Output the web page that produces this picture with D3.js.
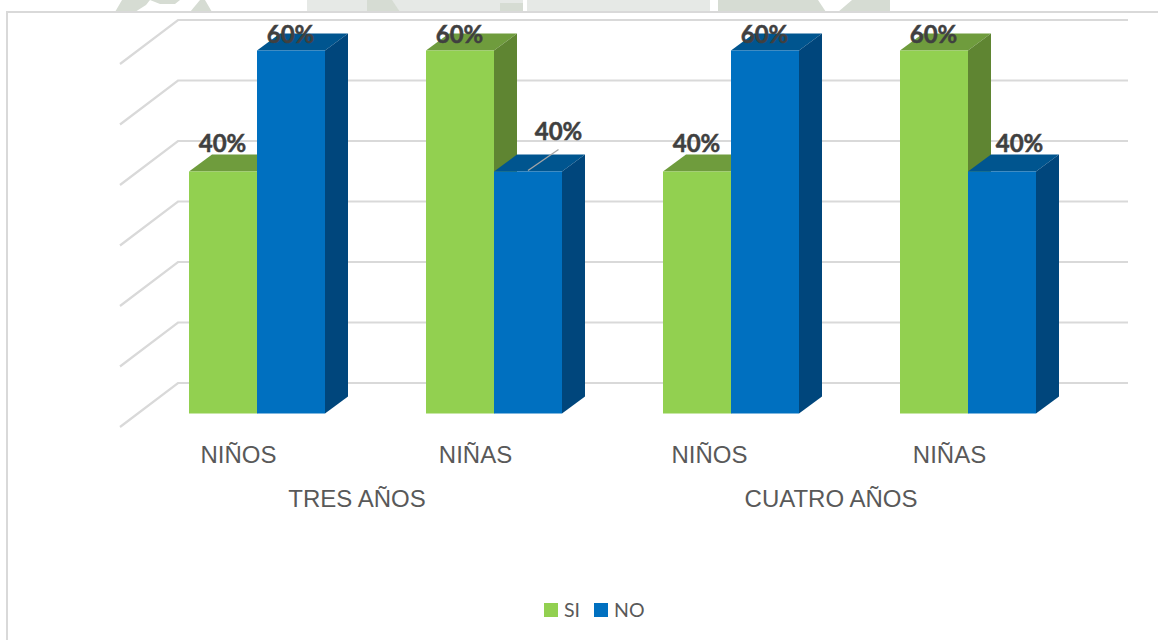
<!DOCTYPE html>
<html>
<head>
<meta charset="utf-8">
<script src="https://cdnjs.cloudflare.com/ajax/libs/d3/7.8.5/d3.min.js"></script>
<style>
  html, body { margin: 0; padding: 0; background: #fff; overflow: hidden; }
</style>
</head>
<body>
<div id="chart"></div>
<script>
// chart values
const categories = ["NIÑOS", "NIÑAS", "NIÑOS", "NIÑAS"];
const groups = ["TRES AÑOS", "CUATRO AÑOS"];
const seriesNames = ["SI", "NO"];
const siValues = [40, 60, 40, 60];
const noValues = [60, 40, 60, 40];
const gridTicks = [0, 10, 20, 30, 40, 50, 60];

const width = 1158;
const height = 640;

const colors = {
  SI: { front: "#92d050", top: "#6f9c3d", side: "#5f8532" },
  NO: { front: "#0070c0", top: "#00558f", side: "#00467c" }
};

const svg = d3.select("#chart").append("svg")
  .attr("width", width)
  .attr("height", height)
  .style("display", "block");

// bit of the page watermark showing above the chart frame
const watermark = [
  ["#d6dcd3", [[115, 12], [122, 0], [150, 0], [146, 5], [135, 12]]],
  ["#d6dcd3", [[160, 4], [175, 4], [180, 0], [150, 0]]],
  ["#d6dcd3", [[190, 12], [200, 0], [205, 0], [212, 12]]],
  ["#e6e9e6", [[307, 0], [523, 0], [523, 12], [307, 12]]],
  ["#d6dcd3", [[367, 0], [392, 0], [400, 12], [367, 12]]],
  ["#d6dcd3", [[500, 3], [523, 3], [523, 12], [500, 12]]],
  ["#e6e9e6", [[527, 0], [710, 0], [710, 12], [527, 12]]],
  ["#d6dcd3", [[718, 0], [818, 0], [826, 12], [718, 12]]],
  ["#d6dcd3", [[838, 12], [852, 0], [890, 0], [890, 12]]]
];
const wmG = svg.append("g").style("filter", "blur(0.7px)");
wmG.selectAll("polygon")
  .data(watermark)
  .enter()
  .append("polygon")
  .attr("points", d => d[1].join(" "))
  .attr("fill", d => d[0]);

// white out below the frame line so the blur does not leak in
svg.append("rect")
  .attr("x", 0).attr("y", 12)
  .attr("width", width).attr("height", 4)
  .attr("fill", "#fff");

// chart frame, runs off the right and bottom of the picture
svg.append("path")
  .attr("d", "M7,646V12H1165")
  .attr("fill", "none")
  .attr("stroke", "#d9d9d9")
  .attr("stroke-width", 2);

// scales: x is along the front edge of the floor, y is on the back wall
const xScale = d3.scaleBand()
  .domain(d3.range(categories.length))
  .range([120, 1068]);
const groupScale = d3.scaleBand()
  .domain(groups)
  .range([120, 1068]);
const yScale = d3.scaleLinear()
  .domain([0, 60])
  .range([383, 20]);
const seriesScale = d3.scaleBand()
  .domain(seriesNames)
  .range([-68, 68]);

// 3D offsets
const wallDx = 58, wallDy = 44;
const barShiftX = 18.5, barShiftY = 30.5;
const depthDx = 23, depthDy = 17;
const gridRight = 1128;

// gridlines: slanted on the side wall, flat on the back wall
const grid = svg.append("g");
grid.selectAll("path")
  .data(gridTicks)
  .enter()
  .append("path")
  .attr("d", d => {
    const y = yScale(d);
    return `M${120},${y + wallDy}L${120 + wallDx},${y}H${gridRight}`;
  })
  .attr("fill", "none")
  .attr("stroke", "#d9d9d9")
  .attr("stroke-width", 2.2);

const points = [];
categories.forEach((c, i) => {
  points.push({ i, series: "SI", value: siValues[i] });
  points.push({ i, series: "NO", value: noValues[i] });
});

function barGeom(d) {
  const x0 = xScale(d.i) + xScale.bandwidth() / 2 + barShiftX + seriesScale(d.series);
  const x1 = x0 + seriesScale.bandwidth();
  const y0 = yScale(d.value) + barShiftY;
  const y1 = yScale(0) + barShiftY;
  return { x0, x1, y0, y1 };
}

const bars = svg.append("g").selectAll("g")
  .data(points)
  .enter()
  .append("g");

bars.append("polygon")
  .attr("fill", d => colors[d.series].top)
  .attr("points", d => {
    const b = barGeom(d);
    return [[b.x0, b.y0], [b.x0 + depthDx, b.y0 - depthDy], [b.x1 + depthDx, b.y0 - depthDy], [b.x1, b.y0]].join(" ");
  });
bars.append("polygon")
  .attr("fill", d => colors[d.series].side)
  .attr("points", d => {
    const b = barGeom(d);
    return [[b.x1, b.y0], [b.x1 + depthDx, b.y0 - depthDy], [b.x1 + depthDx, b.y1 - depthDy], [b.x1, b.y1]].join(" ");
  });
bars.append("rect")
  .attr("fill", d => colors[d.series].front)
  .attr("x", d => barGeom(d).x0)
  .attr("y", d => barGeom(d).y0)
  .attr("width", seriesScale.bandwidth())
  .attr("height", d => barGeom(d).y1 - barGeom(d).y0);

// two of the NO labels were dragged off their bars in the original
const labelNudge = { "1-NO": [31, -12], "3-NO": [18, 0] };

function labelPos(d) {
  const b = barGeom(d);
  const n = labelNudge[d.i + "-" + d.series] || [0, 0];
  return [(b.x0 + b.x1) / 2 + n[0] - 0.5, b.y0 + (d.value === 60 ? -8 : -20) + n[1]];
}

// leader line for the moved label
const moved = points.find(d => d.i === 1 && d.series === "NO");
svg.append("line")
  .attr("x1", (barGeom(moved).x0 + barGeom(moved).x1) / 2)
  .attr("y1", barGeom(moved).y0 - 1)
  .attr("x2", labelPos(moved)[0])
  .attr("y2", labelPos(moved)[1] + 10)
  .attr("stroke", "#a6a6a6")
  .attr("stroke-width", 1.3);

svg.append("g").selectAll("text")
  .data(points)
  .enter()
  .append("text")
  .attr("x", d => labelPos(d)[0])
  .attr("y", d => labelPos(d)[1])
  .attr("text-anchor", "middle")
  .attr("font-family", "Lato, sans-serif")
  .attr("font-weight", 700)
  .attr("font-size", 24)
  .attr("fill", "#404040")
  .attr("stroke", "#404040")
  .attr("stroke-width", 0.5)
  .text(d => d.value + "%");

// two level category axis
const axisFont = "'Liberation Sans', Arial, sans-serif";
const catAxis = d3.axisBottom(xScale)
  .tickSize(0)
  .tickFormat(i => categories[i]);
const catG = svg.append("g")
  .attr("transform", "translate(0,443)")
  .call(catAxis);
const groupAxis = d3.axisBottom(groupScale).tickSize(0);
const groupG = svg.append("g")
  .attr("transform", "translate(0,487)")
  .call(groupAxis);
[catG, groupG].forEach(g => {
  g.select(".domain").remove();
  g.selectAll("text")
    .attr("font-family", axisFont)
    .attr("font-size", 24)
    .attr("fill", "#595959");
});
// third label sits a little left of its tick in the original
catG.selectAll("text").filter(i => i === 2).attr("dx", -3);

// legend
const legend = svg.append("g");
const legendX = d3.scaleOrdinal().domain(seriesNames).range([544, 594]);
legend.selectAll("rect")
  .data(seriesNames)
  .enter()
  .append("rect")
  .attr("x", d => legendX(d))
  .attr("y", 603)
  .attr("width", 14)
  .attr("height", 14)
  .attr("fill", d => colors[d].front);
legend.selectAll("text")
  .data(seriesNames)
  .enter()
  .append("text")
  .attr("x", d => legendX(d) + 20)
  .attr("y", 617)
  .attr("font-family", "Lato, sans-serif")
  .attr("font-size", 19.5)
  .attr("fill", "#595959")
  .text(d => d);
</script>
</body>
</html>
